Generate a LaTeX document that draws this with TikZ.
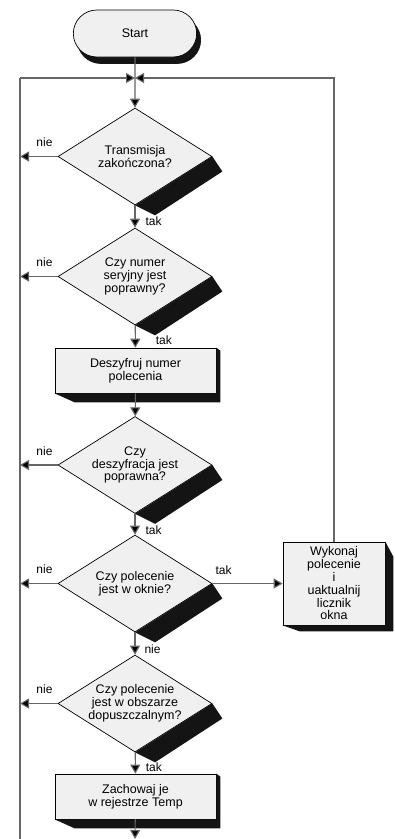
\documentclass[tikz,border=0pt]{standalone}
\usepackage{fontspec}
\setmainfont{Liberation Sans}
\usetikzlibrary{shapes.geometric}
\usetikzlibrary{shapes.misc}
\usetikzlibrary{arrows.meta}
\usetikzlibrary{calc}

\tikzset{
  terminal/.style={rounded rectangle, draw=black, line width=0.7pt, fill=black!6,
    minimum width=130pt, minimum height=47pt, font=\fontsize{12.5}{12.8}\selectfont},
  decision/.style={diamond, draw=black, line width=0.7pt, fill=black!6, aspect=1.6,
    minimum width=154pt, minimum height=97pt, inner sep=-1.5pt, align=center,
    font=\fontsize{12.5}{12.8}\selectfont},
  process/.style={rectangle, draw=black, line width=0.7pt, fill=black!6,
    minimum width=161pt, minimum height=45pt, align=center,
    font=\fontsize{12.5}{12.8}\selectfont},
  line/.style={draw=black!60, line width=1.1pt},
  flow/.style={line, -{Triangle[length=9pt,width=10pt,fill=black]}},
  lbl/.style={inner sep=0pt, font=\fontsize{12}{12}\selectfont},
  shade/.style={fill=black!92}
}
% shadow of a decision box
\newcommand{\dshade}[1]{\fill[shade] (#1.east) -- ++(10,15) -- ($(#1.south)+(20,10)$) -- (#1.south) -- cycle;}
% shadow of a process box
\newcommand{\bshade}[1]{\fill[shade] (#1.south west) -- ++(20,9) -- ($(#1.south east)+(4,9)$) -- ($(#1.north east)+(4,3)$) -- (#1.north east) -- (#1.south east) -- cycle;}

\begin{document}
\begin{tikzpicture}[x=1pt,y=-1pt]
\useasboundingbox (0,0) rectangle (395,839);

\node[terminal, fill=black!92, draw=black!92] (startshade) at (139,40) {\phantom{Start}};
\node[terminal] (start) at (135,33.5) {Start};

\coordinate (jn) at (135,78);
\coordinate (ltop) at (20,78);
\coordinate (lbot) at (20,839);
\coordinate (bot) at (135,839);

\node[decision] (d1) at (135,156.5) {Transmisja\\zakończona?};
\node[decision] (d2) at (135,276.5) {Czy numer\\seryjny jest\\poprawny?};
\node[process] (p1) at (135.5,370.5) {Deszyfruj numer\\polecenia};
\node[decision] (d3) at (135,465) {Czy\\deszyfracja jest\\poprawna?};
\node[decision] (d4) at (135,583.5) {Czy polecenie\\jest w oknie?};
\node[decision] (d5) at (135,703.5) {Czy polecenie\\jest w obszarze\\dopuszczalnym?};
\node[process] (p2) at (135.5,796.5) {Zachowaj je\\w rejestrze Temp};
\node[process, minimum width=102pt, minimum height=83pt] (wyk) at (334,583.5)
  {Wykonaj\\polecenie\\i\\uaktualnij\\licznik\\okna};

\dshade{d1}
\dshade{d2}
\dshade{d3}
\dshade{d4}
\dshade{d5}
\bshade{p1}
\bshade{p2}
\fill[shade] (wyk.north east) -- ++(8,15) -- ($(wyk.south east)+(8,6)$) -- ($(wyk.south west)+(17,6)$) -- (wyk.south west) -- (wyk.south east) -- cycle;

\draw[line] (ltop) -- (lbot);
\draw[flow] (ltop) -- (jn);
\draw[flow] (wyk) |- (jn);
\draw[flow] (start) -- (d1);

\draw[flow] (d1) -- node[lbl, right=10pt, pos=.7] {tak} (d2);
\draw[flow] (d2) -- node[lbl, right=20pt, pos=.65] {tak} (p1);
\draw[flow] (p1) -- (d3);
\draw[flow] (d3) -- node[lbl, right=10pt, pos=.8] {tak} (d4);
\draw[flow] (d4) -- node[lbl, right=9pt, pos=.74] {nie} (d5);
\draw[flow] (d5) -- node[lbl, right=10pt, pos=.68] {tak} (p2);
\draw[flow] (p2) -- (bot);
\draw[flow] (d4) -- node[lbl, above=8pt, pos=.16] {tak} (wyk);

\foreach \d in {d1,d2,d3,d4,d5}
  \draw[flow] (\d.west) -- node[lbl, above=9pt, pos=.35] {nie} (\d.west -| ltop);
\end{tikzpicture}
\end{document}
